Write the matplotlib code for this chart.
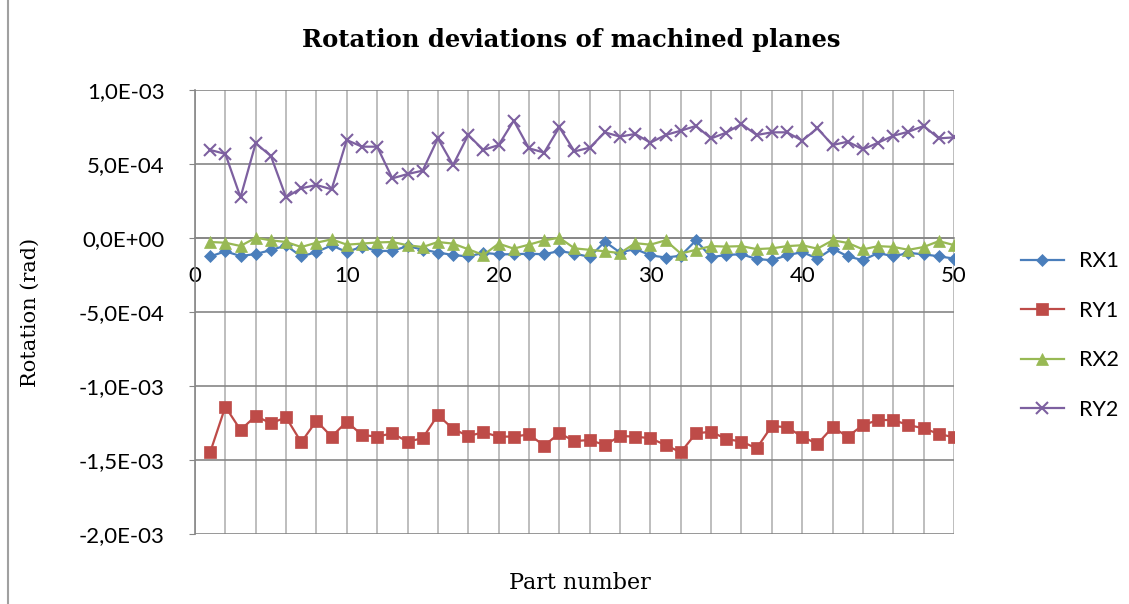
import numpy as np
import matplotlib
matplotlib.use("Agg")
import matplotlib.pyplot as plt
from matplotlib.ticker import MultipleLocator, FuncFormatter
from matplotlib.lines import Line2D

# --------- Data (rotation in 1e-4 rad) ---------
parts = np.arange(1, 51)

rx1 = [-1.25, -0.90, -1.22, -1.08, -0.82, -0.50, -1.25, -0.95, -0.50, -0.95,
       -0.58, -0.88, -0.87, -0.55, -0.78, -0.98, -1.15, -1.25, -1.00, -1.10,
       -1.10, -1.06, -1.10, -0.88, -1.05, -1.28, -0.25, -0.98, -0.74, -1.17,
       -1.32, -1.20, -0.16, -1.30, -1.14, -1.10, -1.42, -1.50, -1.17, -0.95,
       -1.39, -0.72, -1.24, -1.50, -1.01, -1.24, -1.01, -1.10, -1.24, -1.39]

ry1 = [-14.48, -11.40, -12.97, -12.03, -12.52, -12.12, -13.80, -12.36, -13.42, -12.41,
       -13.31, -13.42, -13.20, -13.76, -13.53, -11.96, -12.90, -13.38, -13.13, -13.42,
       -13.42, -13.27, -14.03, -13.20, -13.72, -13.65, -13.99, -13.38, -13.42, -13.53,
       -13.99, -14.48, -13.20, -13.09, -13.58, -13.76, -14.21, -12.70, -12.79, -13.42,
       -13.92, -12.79, -13.42, -12.64, -12.30, -12.30, -12.64, -12.86, -13.24, -13.47]

rx2 = [-0.27, -0.32, -0.54, 0.02, -0.16, -0.27, -0.61, -0.32, -0.09, -0.45,
       -0.38, -0.30, -0.27, -0.49, -0.61, -0.27, -0.38, -0.76, -1.15, -0.38,
       -0.72, -0.45, -0.16, 0.02, -0.70, -0.80, -0.90, -1.02, -0.35, -0.45,
       -0.16, -1.05, -0.80, -0.55, -0.58, -0.55, -0.75, -0.70, -0.55, -0.49,
       -0.72, -0.16, -0.33, -0.77, -0.55, -0.60, -0.80, -0.61, -0.21, -0.48]

ry2 = [5.95, 5.68, 2.75, 6.40, 5.54, 2.75, 3.36, 3.58, 3.29, 6.62,
       6.17, 6.17, 4.03, 4.32, 4.55, 6.73, 4.93, 6.96, 5.95, 6.28,
       7.93, 6.06, 5.77, 7.48, 5.85, 6.10, 7.14, 6.85, 7.03, 6.44,
       6.96, 7.25, 7.57, 6.73, 7.12, 7.70, 6.96, 7.14, 7.14, 6.58,
       7.41, 6.28, 6.51, 5.99, 6.44, 6.91, 7.18, 7.57, 6.73, 6.80]

series = [
    ("RX1", rx1, "#4a7ebb", "D", 6.5),
    ("RY1", ry1, "#be4b48", "s", 8.5),
    ("RX2", rx2, "#98b954", "^", 8.5),
    ("RY2", ry2, "#7d60a0", "x", 8),
]

# --------- Figure ---------
fig = plt.figure(figsize=(11.29, 6.04), dpi=100)
ax = fig.add_axes([0.1727, 0.1159, 0.6723, 0.7351])

for name, vals, color, marker, ms in series:
    ax.plot(parts, np.array(vals) * 1e-4, color=color, marker=marker,
            markersize=ms, linewidth=1.6, markeredgewidth=1.5 if marker == "x" else 0.5,
            markeredgecolor=color, label=name, zorder=3)

ax.set_xlim(0, 50)
ax.set_ylim(-2e-3, 1e-3)

ax.xaxis.set_major_locator(MultipleLocator(10))
ax.xaxis.set_minor_locator(MultipleLocator(2))
ax.yaxis.set_major_locator(MultipleLocator(5e-4))

def sci_comma(v, pos):
    if abs(v) < 1e-12:
        return "0,0E+00"
    mant, exp = ("%.1E" % v).split("E")
    return mant.replace(".", ",") + "E" + exp[0] + exp[1:].zfill(2)

ax.yaxis.set_major_formatter(FuncFormatter(sci_comma))

ax.grid(True, which="both", axis="x", color="#b3b3b3", linewidth=1.2)
ax.grid(True, which="major", axis="y", color="#868686", linewidth=1.2)
ax.set_axisbelow(True)

for side in ["top", "right"]:
    ax.spines[side].set_visible(False)
ax.spines["left"].set_color("#868686")
ax.spines["left"].set_linewidth(1.2)
ax.spines["bottom"].set_position(("data", 0))
ax.spines["bottom"].set_color("#868686")
ax.spines["bottom"].set_linewidth(1.2)

ax.tick_params(axis="y", which="major", length=4, color="#868686",
               labelsize=16, pad=18)
ax.tick_params(axis="x", which="both", length=0, labelsize=16, pad=20)
for lbl in ax.get_xticklabels() + ax.get_yticklabels():
    lbl.set_fontfamily("Lato")

fig.text(0.506, 0.934, "Rotation deviations of machined planes", ha="center",
         va="center", family="DejaVu Serif", fontweight="bold", fontsize=17.5)
fig.text(0.027, 0.483, "Rotation (rad)", rotation=90, ha="center", va="center",
         family="DejaVu Serif", fontsize=15)
fig.text(0.514, 0.035, "Part number", ha="center", va="center",
         family="DejaVu Serif", fontsize=16)

# --------- Legend ---------
handles = [Line2D([0], [0], color=c, marker=m, markersize=ms, linewidth=1.6,
                  markeredgecolor=c, markeredgewidth=1.5 if m == "x" else 0.5)
           for _, _, c, m, ms in series]
leg = fig.legend(handles, [s[0] for s in series], loc="center left",
                 bbox_to_anchor=(0.8946, 0.4445), frameon=False, borderpad=0,
                 prop={"family": "Lato", "size": 15.5}, labelspacing=1.37,
                 handlelength=2.0, handletextpad=0.7)

# light frame line on the left edge
fig.add_artist(Line2D([0.007, 0.007], [0.0, 1.0], color="#a0a0a0", linewidth=1.5,
                      transform=fig.transFigure))

plt.savefig("out.png", dpi=100)
